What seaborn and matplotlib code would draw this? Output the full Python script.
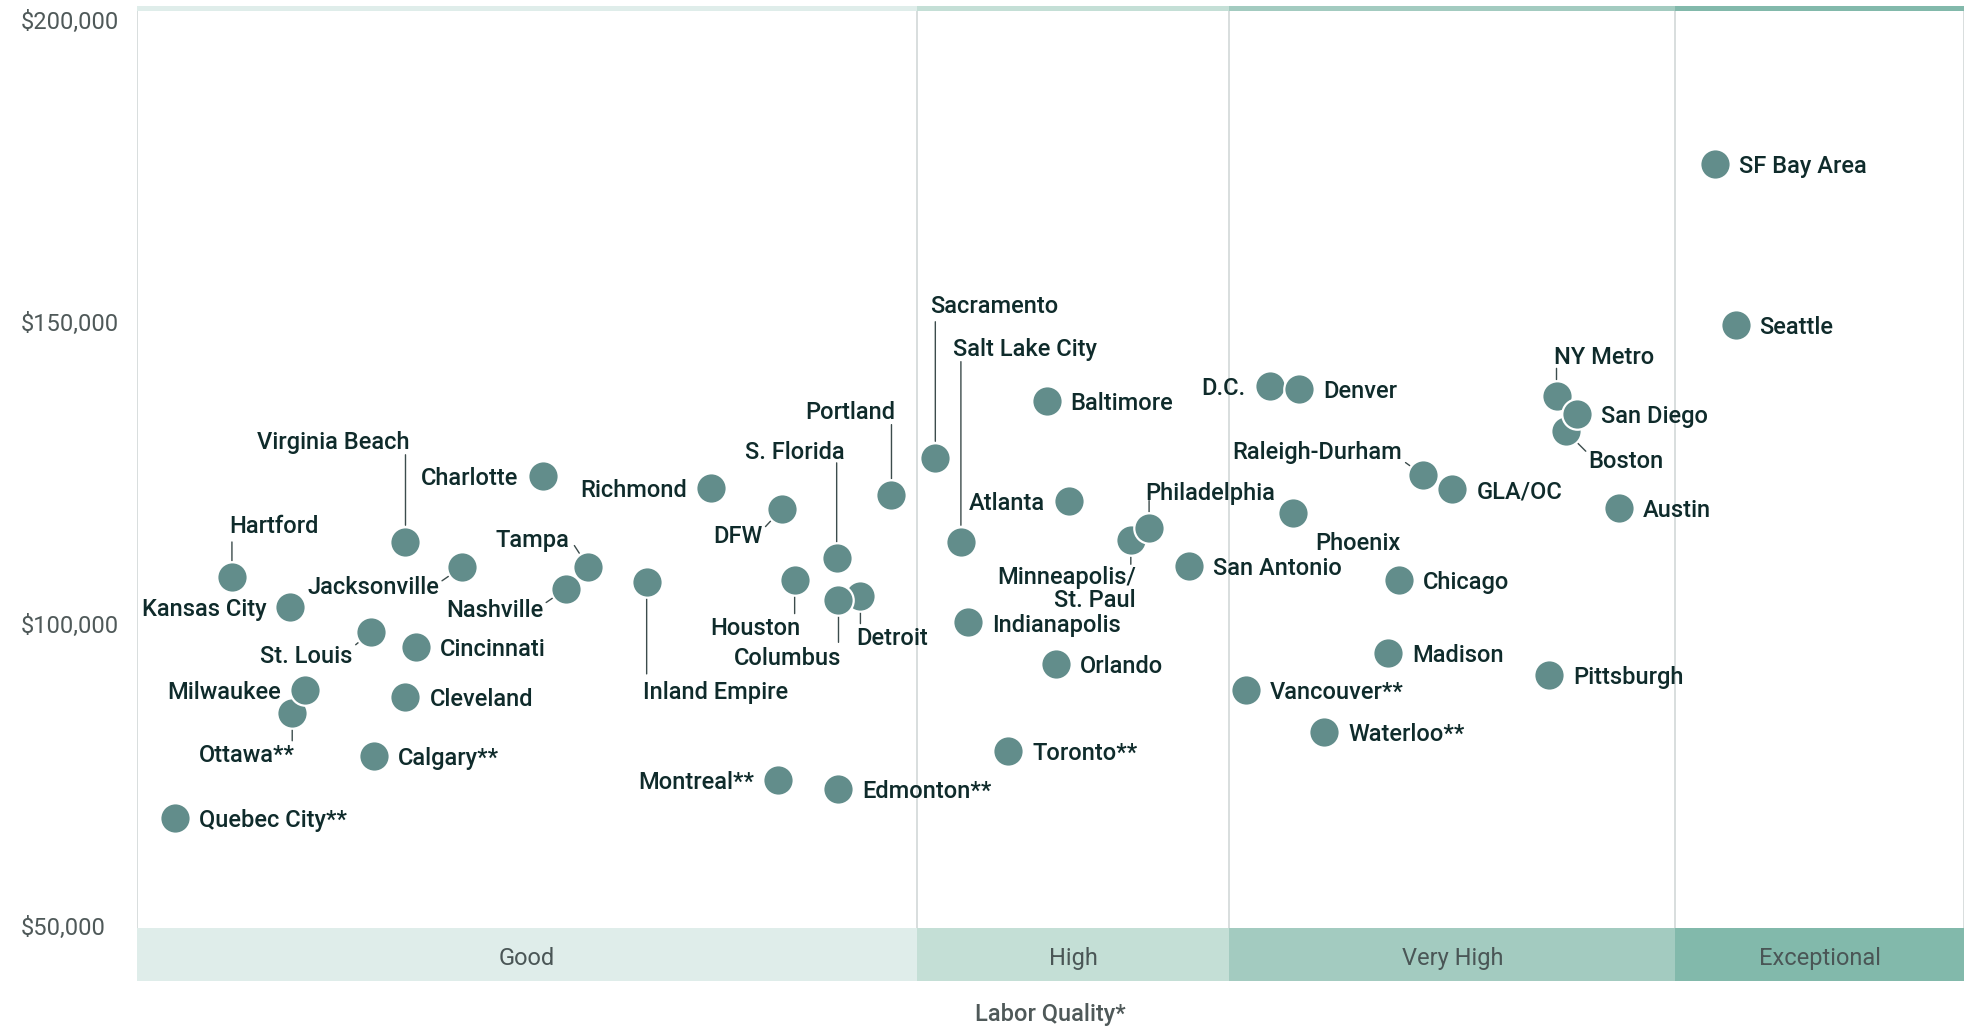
import matplotlib
matplotlib.use("Agg")
import matplotlib.pyplot as plt
from matplotlib.ticker import FuncFormatter
import numpy as np
import pandas as pd
import seaborn as sns

# ---------------- data ----------------
cities = [
    "Quebec City**", "Ottawa**", "Milwaukee", "Calgary**", "Kansas City", "Hartford",
    "St. Louis", "Cincinnati", "Cleveland", "Virginia Beach", "Jacksonville", "Charlotte",
    "Tampa", "Nashville", "Inland Empire", "Richmond", "Montreal**", "DFW", "Houston",
    "S. Florida", "Detroit", "Columbus", "Edmonton**", "Portland", "Sacramento",
    "Salt Lake City", "Indianapolis", "Toronto**", "Baltimore", "Atlanta", "Orlando",
    "Minneapolis/\nSt. Paul", "Philadelphia", "San Antonio", "Vancouver**", "D.C.", "Denver",
    "Phoenix", "Waterloo**", "Madison", "Chicago", "Raleigh-Durham", "GLA/OC",
    "NY Metro", "Boston", "San Diego", "Pittsburgh", "Austin", "SF Bay Area", "Seattle",
]
labor_quality = [
    2.1, 8.5, 9.2, 13.0, 8.4, 5.2,
    12.8, 15.3, 14.7, 14.7, 17.8, 22.2,
    24.7, 23.5, 27.9, 31.4, 35.1, 35.3, 36.0,
    38.3, 39.6, 38.4, 38.4, 41.3, 43.7,
    45.1, 45.5, 47.7, 49.8, 51.0, 50.3,
    54.4, 55.4, 57.6, 60.7, 62.0, 63.6,
    63.3, 65.0, 68.5, 69.1, 70.4, 72.0,
    77.7, 78.2, 78.8, 77.3, 81.1, 86.4, 87.5,
]
wages = [
    67900, 85200, 89000, 78100, 102700, 107700,
    98600, 96100, 87900, 113600, 109400, 124400,
    109400, 105800, 106900, 122500, 74200, 119000, 107300,
    110800, 104600, 104000, 72700, 121300, 127500,
    113600, 100200, 79000, 136900, 120400, 93300,
    113800, 115800, 109600, 89000, 139400, 138800,
    118300, 82100, 95200, 107300, 124600, 122300,
    137700, 131900, 134800, 91500, 119200, 176100, 149400,
]
tier_names = ["Good", "High", "Very High", "Exceptional"]
tier_edges = [0, 42.7, 59.8, 84.2, 100]
y_ticks = [50000, 100000, 150000, 200000]
x_label = "Labor Quality*"

# ---------------- style ----------------
POINT = "#628d8b"
TEXT = "#0f2b2b"
LEADER = "#3c4c4c"
GRID = "#d6dbdb"
TICK = "#4f5959"
tier_colors = ["#dfedea", "#c4dfd6", "#a3cbc0", "#82b9ab"]

# label layout in reference pixels: (ha, dx, dy, leader_end or None)
R = ("left", 19, 0, None)
L = ("right", -19, 0, None)
layout = {
    "Kansas City": L, "Milwaukee": L, "Charlotte": L, "Richmond": L,
    "Montreal**": L, "Atlanta": L, "D.C.": L,
    "Hartford": ("left", -2, -42, (0, -28)),
    "Virginia Beach": ("right", 3, -81, (0, -69)),
    "Tampa": ("right", -15, -23, (-11, -17)),
    "Jacksonville": ("right", -18, 14, (-16, 11)),
    "Nashville": ("right", -18, 15, (-16, 11)),
    "St. Louis": ("right", -15, 17, (-12, 10)),
    "Ottawa**": ("right", 2, 32, (0, 22)),
    "Inland Empire": ("left", -3, 86, (0, 73)),
    "DFW": ("right", -15, 20, (-13, 14)),
    "Houston": ("right", 5, 37, (0, 27)),
    "S. Florida": ("right", 6, -86, (0, -76)),
    "Columbus": ("right", 2, 45, (0, 34)),
    "Detroit": ("left", -3, 32, (0, 22)),
    "Portland": ("right", 3, -68, (0, -56)),
    "Sacramento": ("left", -4, -122, (0, -108)),
    "Salt Lake City": ("left", -6, -155, (0, -143)),
    "Minneapolis/\nSt. Paul": ("right", 4, 37, (0, 19)),
    "Philadelphia": ("left", -3, -30, (0, -22)),
    "Phoenix": ("left", 17, 22, None),
    "NY Metro": ("left", -2, -33, (0, -22)),
    "Boston": ("left", 18, 22, (16, 16)),
    "Raleigh-Durham": ("right", -17, -20, (-14, -10)),
}
K = 1.2583 * 0.72  # reference px -> points
TEXT_SHIFT = 2     # reference px, text baseline nudge

sns.set_theme(style="white")
plt.rcParams["font.family"] = ["Roboto", "DejaVu Sans"]

fig = plt.figure(figsize=(19.73, 10.27), dpi=100)
ax = fig.add_axes([0.0694, 0.0448, 0.9260, 0.9494])

df = pd.DataFrame({"city": cities, "quality": labor_quality, "wage": wages})

Y0, Y1 = 40833, 202300
BAND_TOP = 49600
STRIP = 201450
ax.set_xlim(0, 100)
ax.set_ylim(Y0, Y1)

for i, name in enumerate(tier_names):
    a, b = tier_edges[i], tier_edges[i + 1]
    ax.fill_between([a, b], Y0, BAND_TOP, color=tier_colors[i], lw=0, zorder=1)
    ax.fill_between([a, b], STRIP, Y1, color=tier_colors[i], lw=0, zorder=1)
    ax.text((a + b) / 2, 44600, name, ha="center", va="center",
            fontsize=17, color="#4a5656", fontweight="normal", zorder=2)
ax.vlines(tier_edges, BAND_TOP, STRIP, color=GRID, lw=1.3, zorder=1)

sns.scatterplot(data=df, x="quality", y="wage", s=480, color=POINT,
                edgecolor="white", linewidth=1.6, ax=ax, zorder=5, legend=False)

for name, x, y in zip(cities, labor_quality, wages):
    ha, dx, dy, leader = layout.get(name, R)
    ax.annotate(name, (x, y), xytext=(dx * K, -(dy + TEXT_SHIFT) * K),
                textcoords="offset points",
                ha=ha, va="center", multialignment="right", linespacing=1.0,
                fontsize=17, color=TEXT, fontweight="medium", zorder=6)
    if leader is not None:
        lx, ly = leader
        ax.annotate("", xy=(x, y), xytext=(lx * K, -ly * K), textcoords="offset points",
                    arrowprops=dict(arrowstyle="-", color=LEADER, lw=1.0,
                                    shrinkA=0, shrinkB=13 * K), zorder=4)

for s in ax.spines.values():
    s.set_visible(False)
ax.set_xticks([])
ax.set_yticks(y_ticks)
ax.yaxis.set_major_formatter(FuncFormatter(lambda v, p: f"${v:,.0f}"))
ax.tick_params(axis="y", length=0, pad=84, labelsize=17, labelcolor=TICK)
plt.setp(ax.get_yticklabels(), ha="left", fontweight="normal")
ax.set_ylabel("")
ax.set_xlabel(x_label, fontsize=17, color="#4f5959", fontweight="medium", labelpad=16)

fig.savefig("out.png", dpi=100, facecolor="white")
